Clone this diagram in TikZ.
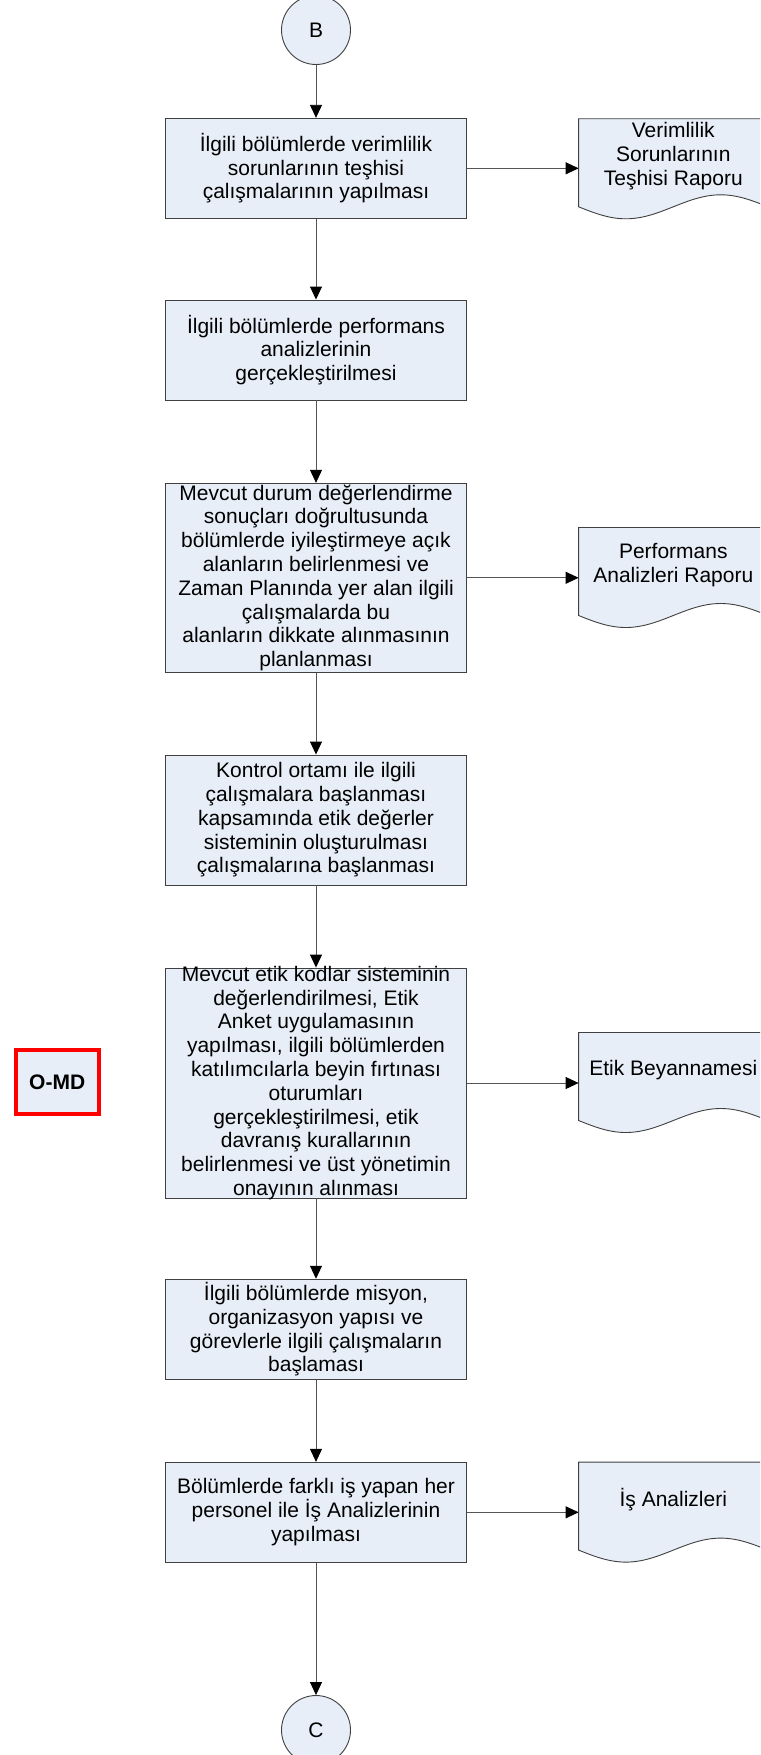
\documentclass[tikz,border=0pt]{standalone}
\usepackage{fontspec}
\setmainfont{Liberation Sans}
\usetikzlibrary{arrows.meta,calc}
\definecolor{boxfill}{HTML}{E8EEF7}
\definecolor{boxline}{HTML}{404040}
\definecolor{connline}{HTML}{555555}
\definecolor{omdred}{HTML}{FF0000}
\newcommand\docshape[1]{%
  \draw[boxline,fill=boxfill,line width=0.9pt]
    (#1.north west) -- (#1.north east) -- ($(#1.north east)+(0,88)$)
    sin ($(#1.north east)+(-47.25,76)$) cos ($(#1.north)+(0,88)$)
    sin ($(#1.north west)+(47.25,100)$) cos ($(#1.north west)+(0,88)$) -- cycle;}
\begin{document}
\begin{tikzpicture}[x=1pt,y=-1pt,
  every node/.style={font=\fontsize{21}{23.8}\selectfont},
  procbox/.style={draw=boxline,fill=boxfill,line width=0.9pt,minimum width=301pt,inner sep=0pt,align=center},
  plain/.style={inner sep=0pt,align=center},
  docn/.style={inner sep=0pt,minimum width=189pt,minimum height=100pt},
  conn/.style={circle,draw=boxline,fill=boxfill,line width=0.9pt,minimum size=69pt,inner sep=0pt},
  arr/.style={draw=connline,line width=0.9pt,-{Triangle[length=13pt,width=12pt,fill=black,color=black]}},
  omd/.style={draw=omdred,line width=4pt,fill=boxfill,minimum width=83pt,minimum height=64pt,inner sep=0pt,font=\fontsize{21}{24}\selectfont\bfseries}
]
\useasboundingbox (0,0) rectangle (760,1755);
\clip (0,0) rectangle (760,1755);

% connectors (circles)
\node[conn] (B) at (316,30) {B};
\node[conn] (C) at (316,1730) {C};

% process boxes
\node[procbox,minimum height=100pt] (b1) at (316,168.3) {İlgili bölümlerde verimlilik\\sorunlarının teşhisi\\çalışmalarının yapılması};
\node[procbox,minimum height=100pt] (b2) at (316,350) {İlgili bölümlerde performans\\analizlerinin\\gerçekleştirilmesi};
\node[procbox,minimum height=189pt] (b3) at (316,577.8) {Mevcut durum değerlendirme\\sonuçları doğrultusunda\\bölümlerde iyileştirmeye açık\\alanların belirlenmesi ve\\Zaman Planında yer alan ilgili\\çalışmalarda bu\\alanların dikkate alınmasının\\planlanması};
\node[procbox,minimum height=130pt] (b4) at (316,820) {Kontrol ortamı ile ilgili\\çalışmalara başlanması\\kapsamında etik değerler\\sisteminin oluşturulması\\çalışmalarına başlanması};
\node[procbox,minimum height=230pt] (b5) at (316,1083) {};
\node[plain] (b5t) at (316,1083) {Mevcut etik kodlar sisteminin\\değerlendirilmesi, Etik\\Anket uygulamasının\\yapılması, ilgili bölümlerden\\katılımcılarla beyin fırtınası\\oturumları\\gerçekleştirilmesi, etik\\davranış kurallarının\\belirlenmesi ve üst yönetimin\\onayının alınması};
\node[procbox,minimum height=100pt] (b6) at (316,1329.2) {İlgili bölümlerde misyon,\\organizasyon yapısı ve\\görevlerle ilgili çalışmaların\\başlaması};
\node[procbox,minimum height=100pt] (b7) at (316,1512.3) {Bölümlerde farklı iş yapan her\\personel ile İş Analizlerinin\\yapılması};

% documents
\node[docn] (d1) at (673.3,169) {};
\node[docn] (d2) at (673.3,577.7) {};
\node[docn] (d3) at (673.3,1082.7) {};
\node[docn] (d4) at (673.3,1512.3) {};
\docshape{d1}\docshape{d2}\docshape{d3}\docshape{d4}
\node[plain] (d1t) at ($(d1.north)+(0,37.5)$) {Verimlilik\\Sorunlarının\\Teşhisi Raporu};
\node[plain] (d2t) at ($(d2.north)+(0,37.5)$) {Performans\\Analizleri Raporu};
\node[plain] (d3t) at ($(d3.north)+(0,37.5)$) {Etik Beyannamesi};
\node[plain] (d4t) at ($(d4.north)+(0,37.5)$) {İş Analizleri};

% O-MD label
\node[omd] (omd) at (57.2,1082.2) {O-MD};

% arrows
\draw[arr] (B) -- (b1);
\draw[arr] (b1) -- (b2);
\draw[arr] (b2) -- (b3);
\draw[arr] (b3) -- (b4);
\draw[arr] (b4) -- (b5);
\draw[arr] (b5) -- (b6);
\draw[arr] (b6) -- (b7);
\draw[arr] (b7) -- (C);
\draw[arr] (b1.east) -- (b1.east -| d1.west);
\draw[arr] (b3.east) -- (b3.east -| d2.west);
\draw[arr] (b5.east) -- (b5.east -| d3.west);
\draw[arr] (b7.east) -- (b7.east -| d4.west);
\end{tikzpicture}
\end{document}
